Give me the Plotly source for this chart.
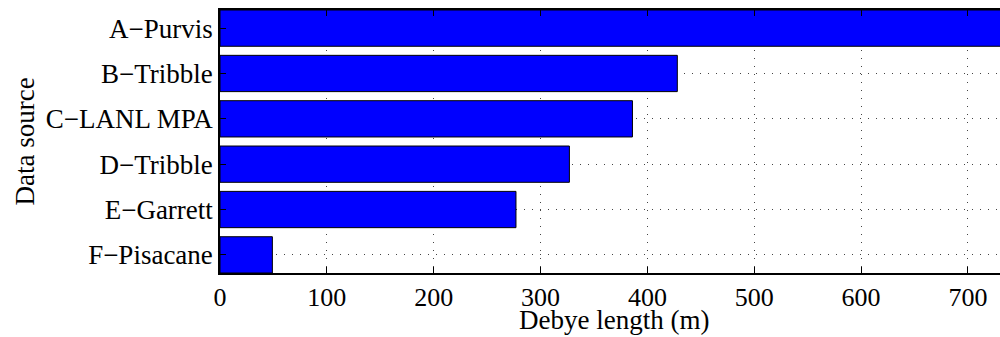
import plotly.graph_objects as go

sources = ["A\u2212Purvis", "B\u2212Tribble", "C\u2212LANL MPA", "D\u2212Tribble", "E\u2212Garrett", "F\u2212Pisacane"]
debye_m = [1000, 428, 386, 327, 277, 49]
x_ticks = [0, 100, 200, 300, 400, 500, 600, 700]

FONT = "Times New Roman"
FS = 26
L, R, T, B = 220, 0, 10, 64
W, H = 1000, 337
pw = W - L - R
ph = H - T - B

fig = go.Figure(go.Bar(
    x=debye_m, y=sources, orientation="h",
    marker=dict(color="#0000FF", line=dict(color="black", width=1)),
))

fig.update_layout(
    width=W, height=H,
    margin=dict(l=L, r=R, t=T, b=B, pad=0),
    paper_bgcolor="white", plot_bgcolor="white",
    bargap=0.2, showlegend=False,
    font=dict(family=FONT, size=FS, color="black"),
    annotations=[
        dict(text="Debye length (m)", xref="paper", yref="paper",
             x=(613.5 - L) / pw, y=-(H - (H - B)) / ph, xanchor="center", yanchor="bottom",
             showarrow=False, font=dict(family=FONT, size=FS + 1, color="black")),
        dict(text="Data source", xref="paper", yref="paper",
             x=(24 - L) / pw, y=0.5, xanchor="center", yanchor="middle", textangle=-90,
             showarrow=False, font=dict(family=FONT, size=FS + 1, color="black")),
    ],
)

fig.update_xaxes(
    range=[0, 730], tickvals=x_ticks, ticktext=[str(v) for v in x_ticks],
    showgrid=True, gridcolor="#444444", griddash="1px,7px", gridwidth=1,
    showline=True, linecolor="black", linewidth=1.5, mirror="ticks",
    ticks="inside", ticklen=6, tickcolor="black",
    zeroline=False, ticklabelstandoff=0,
    tickfont=dict(family=FONT, size=FS, color="black"),
)
fig.update_yaxes(
    type="category", categoryorder="array", categoryarray=sources,
    range=[5.4, -0.4],
    showgrid=True, gridcolor="#444444", griddash="1px,7px", gridwidth=1,
    showline=True, linecolor="black", linewidth=1.5, mirror=False,
    ticks="inside", ticklen=6, tickcolor="black",
    zeroline=False, ticklabelstandoff=0,
    tickfont=dict(family=FONT, size=FS + 1, color="black"),
)

fig.write_html("out.html")
